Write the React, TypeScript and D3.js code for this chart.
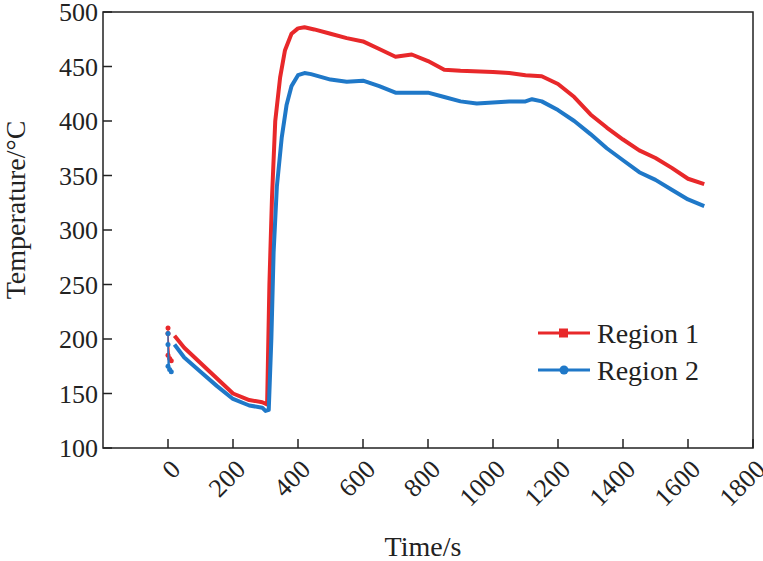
import * as d3 from "d3";
import React from "react";

// Region 1 (red)
const r1Time = [0, 0, 0, 5, 10, 20, 50, 100, 150, 200, 250, 290, 305, 312, 320, 330, 345, 360, 380, 400, 420, 450, 500, 550, 600, 650, 700, 750, 800, 850, 900, 1000, 1050, 1100, 1150, 1200, 1250, 1300, 1350, 1400, 1450, 1500, 1550, 1600, 1650];
const r1Temp = [210, 185, 205, 182, 180, 203, 192, 178, 164, 150, 144, 142, 140, 250, 330, 400, 440, 465, 480, 485, 486, 484, 480, 476, 473, 466, 459, 461, 455, 447, 446, 445, 444, 442, 441, 434, 422, 406, 394, 383, 373, 366, 357, 347, 342];
// Region 2 (blue)
const r2Time = [0, 0, 0, 5, 10, 20, 50, 100, 150, 200, 250, 290, 300, 310, 318, 325, 335, 350, 365, 380, 400, 420, 440, 500, 550, 600, 650, 700, 750, 800, 850, 900, 950, 1000, 1050, 1100, 1120, 1150, 1200, 1250, 1300, 1350, 1400, 1450, 1500, 1550, 1600, 1650];
const r2Temp = [205, 175, 195, 172, 170, 195, 183, 170, 157, 145, 139, 137, 134, 135, 200, 280, 340, 385, 415, 432, 442, 444, 443, 438, 436, 437, 432, 426, 426, 426, 422, 418, 416, 417, 418, 418, 420, 418, 410, 400, 388, 375, 364, 353, 346, 337, 328, 322];

const xTicks = [0, 200, 400, 600, 800, 1000, 1200, 1400, 1600, 1800];
const yTicks = [100, 150, 200, 250, 300, 350, 400, 450, 500];

const series = [
  { name: "Region 1", time: r1Time, temp: r1Temp, color: "#e8282a", marker: "square" },
  { name: "Region 2", time: r2Time, temp: r2Temp, color: "#1f78c8", marker: "circle" },
];

export default function App() {
  const left = 103, right = 753, top = 12, bottom = 448;
  const x = d3.scaleLinear().domain([-200, 1800]).range([left, right]);
  const y = d3.scaleLinear().domain([100, 500]).range([bottom, top]);
  const font = "'Liberation Serif', 'DejaVu Serif', serif";

  return (
    <svg width={763} height={561} style={{ position: "absolute", left: 0, top: 0, background: "#fff" }}>
      {series.map((s) => {
        const pts = s.time.map((t, i) => [t, s.temp[i]] as [number, number]);
        const line = d3.line<[number, number]>().x((d) => x(d[0])).y((d) => y(d[1]));
        return (
          <g key={s.name}>
            <path d={line(pts.slice(5)) || ""} fill="none" stroke={s.color} strokeWidth={4} strokeLinejoin="round" />
            <path d={line(pts.slice(0, 5)) || ""} fill="none" stroke={s.color} strokeWidth={1.2} />
            {pts.slice(0, 5).map((p, i) => (
              <circle key={i} cx={x(p[0])} cy={y(p[1])} r={2.5} fill={s.color} />
            ))}
          </g>
        );
      })}
      <rect x={left} y={top} width={right - left} height={bottom - top} fill="none" stroke="#222" strokeWidth={1.5} />
      {yTicks.map((t) => (
        <g key={t}>
          <line x1={left} x2={left + 9} y1={y(t)} y2={y(t)} stroke="#222" strokeWidth={1.5} />
          <text x={left - 5} y={y(t)} dy="0.35em" textAnchor="end" fontFamily={font} fontSize={26} fill="#222">{t}</text>
        </g>
      ))}
      {xTicks.map((t) => (
        <g key={t}>
          <line x1={x(t)} x2={x(t)} y1={bottom} y2={bottom - 9} stroke="#222" strokeWidth={1.5} />
          <text transform={`translate(${x(t) + 1},${bottom + 10}) rotate(-45)`} textAnchor="end" dy="0.7em" fontFamily={font} fontSize={26} fill="#222">{t}</text>
        </g>
      ))}
      <text transform={`translate(25,${(top + bottom) / 2 - 20}) rotate(-90)`} textAnchor="middle" fontFamily={font} fontSize={28} fill="#222">Temperature/°C</text>
      <text x={423} y={556} textAnchor="middle" fontFamily={font} fontSize={28} fill="#222">Time/s</text>
      {series.map((s, i) => {
        const ly = 333 + i * 37;
        return (
          <g key={s.name}>
            <line x1={538} x2={590} y1={ly} y2={ly} stroke={s.color} strokeWidth={3} />
            {s.marker === "square" ? (
              <rect x={559} y={ly - 4.5} width={9} height={9} fill={s.color} />
            ) : (
              <circle cx={564} cy={ly} r={4.5} fill={s.color} />
            )}
            <text x={597} y={ly} dy="0.35em" fontFamily={font} fontSize={28} fill="#222">{s.name}</text>
          </g>
        );
      })}
    </svg>
  );
}
